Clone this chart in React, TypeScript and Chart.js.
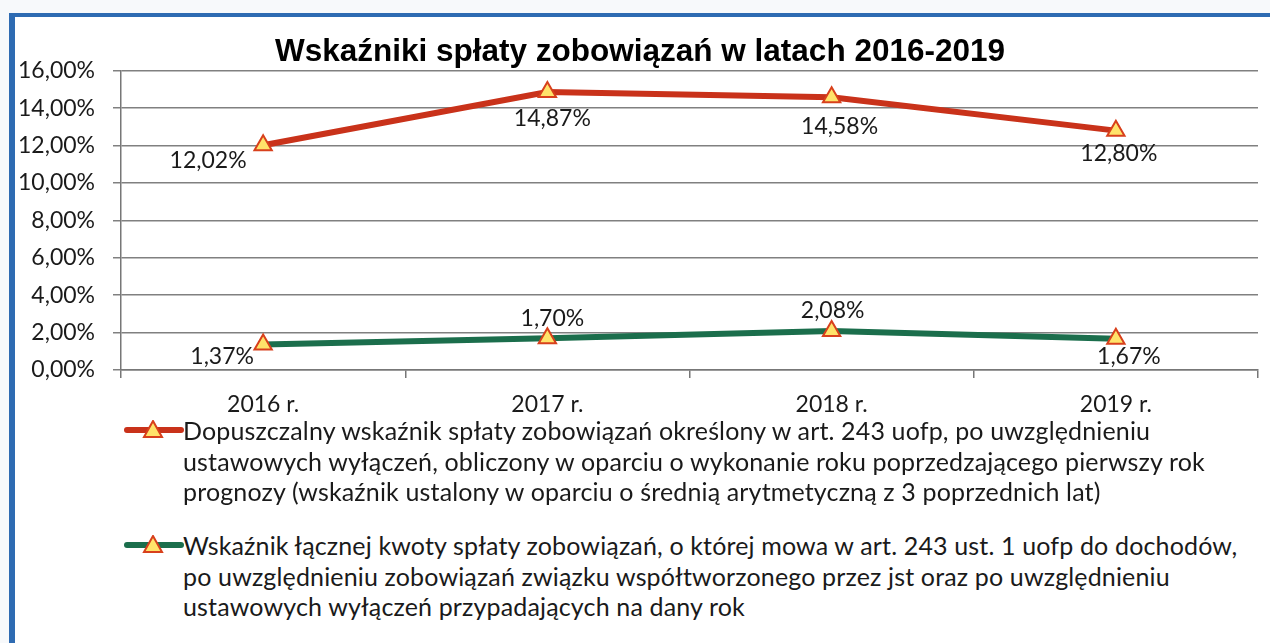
import React, { useEffect, useRef } from "react";
import { Chart, registerables } from "chart.js";

Chart.register(...registerables);

const title = "Wskaźniki spłaty zobowiązań w latach 2016-2019";
const categories = ["2016 r.", "2017 r.", "2018 r.", "2019 r."];
const limitSeries = [12.02, 14.87, 14.58, 12.8];
const actualSeries = [1.37, 1.7, 2.08, 1.67];
const yTicksMin = 0;
const yTicksMax = 16;
const yTickStep = 2;

const limitLabel = [
  "Dopuszczalny wskaźnik spłaty zobowiązań określony w art. 243 uofp, po uwzględnieniu",
  "ustawowych wyłączeń, obliczony w oparciu o wykonanie roku poprzedzającego pierwszy rok",
  "prognozy (wskaźnik ustalony w oparciu o średnią arytmetyczną z 3 poprzednich lat)",
];
const actualLabel = [
  "Wskaźnik łącznej kwoty spłaty zobowiązań, o której mowa w art. 243 ust. 1 uofp do dochodów,",
  "po uwzględnieniu zobowiązań związku współtworzonego przez jst oraz po uwzględnieniu",
  "ustawowych wyłączeń przypadających na dany rok",
];

// label offsets (styling) relative to the point, per dataset
const labelOffsets = [
  [[-55, 15], [5, 27], [8, 29], [3, 23]],
  [[-41, 12], [5, -20], [1, -21], [13, 18]],
];

const RED = "#c9321a";
const GREEN = "#1b6e4c";
const TRI_FILL = "#ffe36a";
const TRI_BORDER = "#d8401c";
const FONT = "Lato, 'Open Sans', sans-serif";

const fmt = (v: number) => v.toFixed(2).replace(".", ",") + "%";

const dataLabelPlugin = {
  id: "dataLabels",
  afterDatasetsDraw(chart: any) {
    const ctx = chart.ctx;
    ctx.save();
    ctx.font = `23px ${FONT}`;
    ctx.fillStyle = "#1a1a1a";
    ctx.textAlign = "center";
    ctx.textBaseline = "middle";
    chart.data.datasets.forEach((ds: any, di: number) => {
      const meta = chart.getDatasetMeta(di);
      meta.data.forEach((pt: any, i: number) => {
        const off = labelOffsets[di][i];
        ctx.fillText(fmt(ds.data[i]), pt.x + off[0], pt.y + off[1]);
      });
    });
    ctx.restore();
  },
};

function LegendMarker({ color }: { color: string }) {
  return (
    <svg width={60} height={20} style={{ position: "absolute", left: 124, top: 0 }}>
      <line x1={3} y1={10} x2={57} y2={10} stroke={color} strokeWidth={6} strokeLinecap="round" />
      <polygon points="29,1 38,17 20,17" fill={TRI_FILL} stroke={TRI_BORDER} strokeWidth={2} />
    </svg>
  );
}

export default function App() {
  const canvasRef = useRef<HTMLCanvasElement>(null);

  useEffect(() => {
    const canvas = canvasRef.current;
    if (!canvas) return;
    const chart = new Chart(canvas, {
      type: "line",
      data: {
        labels: categories,
        datasets: [
          {
            label: limitLabel.join(" "),
            data: limitSeries,
            borderColor: RED,
            borderWidth: 6,
            pointStyle: "triangle",
            pointRadius: 10,
            pointBackgroundColor: TRI_FILL,
            pointBorderColor: TRI_BORDER,
            pointBorderWidth: 2,
            tension: 0,
          },
          {
            label: actualLabel.join(" "),
            data: actualSeries,
            borderColor: GREEN,
            borderWidth: 6,
            pointStyle: "triangle",
            pointRadius: 10,
            pointBackgroundColor: TRI_FILL,
            pointBorderColor: TRI_BORDER,
            pointBorderWidth: 2,
            tension: 0,
          },
        ],
      },
      options: {
        responsive: false,
        animation: false,
        layout: { padding: { left: 20, right: 10, top: 0, bottom: 0 } },
        plugins: {
          legend: { display: false },
          tooltip: { enabled: false },
          title: {
            display: true,
            text: title,
            color: "#000",
            font: { family: "'Liberation Sans', Arial, sans-serif", size: 31.5, weight: "bold" },
            padding: { top: 33, bottom: 0 },
          },
        },
        scales: {
          x: {
            offset: true,
            grid: { drawOnChartArea: false, drawTicks: true, tickLength: 8, offset: true, color: "#777", lineWidth: 1.5 },
            border: { display: true, color: "#777", width: 1.5 },
            ticks: { color: "#1a1a1a", font: { family: FONT, size: 23 }, padding: 13 },
            afterFit: (s: any) => {
              s.height = 50;
            },
          },
          y: {
            min: yTicksMin,
            max: yTicksMax,
            grid: { color: "#808080", lineWidth: 1.5, tickLength: 8 },
            border: { display: true, color: "#777", width: 1.5 },
            ticks: {
              stepSize: yTickStep,
              color: "#1a1a1a",
              font: { family: FONT, size: 23 },
              padding: 18,
              callback: (v: any) => fmt(Number(v)),
            },
            afterFit: (s: any) => {
              s.width = 101;
            },
          },
        },
      },
      plugins: [dataLabelPlugin],
    });
    return () => chart.destroy();
  }, []);

  const textStyle: React.CSSProperties = {
    position: "absolute",
    left: 183,
    fontFamily: FONT,
    fontSize: 25,
    letterSpacing: "0.15px",
    lineHeight: "30.5px",
    color: "#1a1a1a",
    whiteSpace: "nowrap",
  };

  return (
    <div style={{ position: "fixed", inset: 0, overflow: "hidden", background: "#f7f9fb" }}>
      <div
        style={{
          position: "absolute",
          left: 9,
          top: 13,
          width: 1400,
          height: 800,
          borderLeft: "6px solid #2e6bb2",
          borderTop: "4px solid #2e6bb2",
          background: "#fff",
        }}
      />
      <canvas
        ref={canvasRef}
        width={1270}
        height={420}
        style={{ position: "absolute", left: 0, top: 0, width: 1270, height: 420 }}
      />
      <div style={{ position: "absolute", left: 0, top: 420, width: 1270, height: 0 }}>
        <div style={{ position: "absolute", left: 0, top: 0 }}>
          <LegendMarker color={RED} />
        </div>
        <div style={{ ...textStyle, top: -5 }}>
          {limitLabel.map((l, i) => (
            <div key={i}>{l}</div>
          ))}
        </div>
        <div style={{ position: "absolute", left: 0, top: 115 }}>
          <LegendMarker color={GREEN} />
        </div>
        <div style={{ ...textStyle, top: 110 }}>
          {actualLabel.map((l, i) => (
            <div key={i}>{l}</div>
          ))}
        </div>
      </div>
    </div>
  );
}
